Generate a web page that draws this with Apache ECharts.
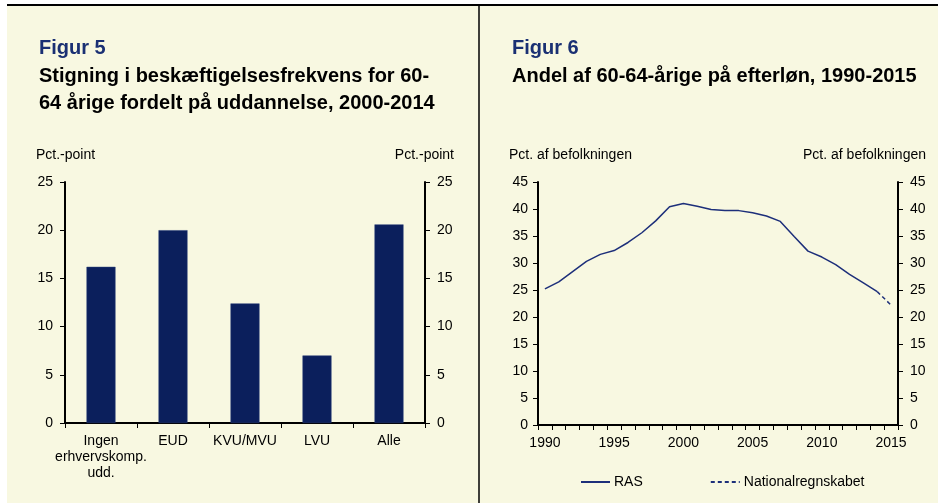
<!DOCTYPE html>
<html>
<head>
<meta charset="utf-8">
<script src="https://cdn.jsdelivr.net/npm/echarts@6/dist/echarts.min.js"></script>
<style>
  html, body { margin: 0; padding: 0; background: #ffffff; }
  #main { width: 938px; height: 503px; }
</style>
</head>
<body>
<div id="main"></div>
<script>
// Figur 5 - bars
var uddCategories = ['Ingen\nerhvervskomp.\nudd.', 'EUD', 'KVU/MVU', 'LVU', 'Alle'];
var uddValues = [16.2, 20.0, 12.4, 7.0, 20.6];

// Figur 6 - line
var years = ['1990', '1991', '1992', '1993', '1994', '1995', '1996', '1997', '1998', '1999',
  '2000', '2001', '2002', '2003', '2004', '2005', '2006', '2007', '2008', '2009',
  '2010', '2011', '2012', '2013', '2014', '2015'];
var rasValues = [25.2, 26.5, 28.4, 30.3, 31.6, 32.3, 33.8, 35.6, 37.8, 40.4,
  41.0, 40.5, 39.9, 39.7, 39.7, 39.3, 38.7, 37.7, 34.9, 32.2,
  31.1, 29.7, 27.9, 26.3, 24.7, null];
var nrValues = [null, null, null, null, null, null, null, null, null, null,
  null, null, null, null, null, null, null, null, null, null,
  null, null, null, null, 24.7, 22.2];

var navy = '#0b1f5c';
var lineNavy = '#1d2f7a';
var font = 'Liberation Sans, Arial, sans-serif';

var myChart = echarts.init(document.getElementById('main'));

function yAx(grid, pos, max, interval, margin) {
  return {
    type: 'value',
    gridIndex: grid,
    position: pos,
    min: 0,
    max: max,
    interval: interval,
    splitLine: { show: false },
    axisLine: { show: true, lineStyle: { color: '#000', width: 2 } },
    axisTick: { show: true, inside: false, length: 5, lineStyle: { color: '#000', width: 1 } },
    axisLabel: { color: '#000', fontSize: 14, fontFamily: font, margin: margin }
  };
}

var option = {
  backgroundColor: '#ffffff',
  animation: false,
  textStyle: { fontFamily: font },
  graphic: [
    { type: 'rect', shape: { x: 7, y: 6, width: 931, height: 497 }, style: { fill: '#f8f8e1' }, silent: true },
    { type: 'line', shape: { x1: 7, y1: 5, x2: 938, y2: 5 }, style: { stroke: '#000', lineWidth: 2 }, silent: true },
    { type: 'line', shape: { x1: 479, y1: 5, x2: 479, y2: 503 }, style: { stroke: '#000', lineWidth: 1.5 }, silent: true },
    { type: 'text', left: 36, top: 148, style: { text: 'Pct.-point', fontSize: 14, fontFamily: font, fill: '#000' } },
    { type: 'text', right: 938 - 454, top: 148, style: { text: 'Pct.-point', fontSize: 14, fontFamily: font, fill: '#000' } },
    { type: 'text', left: 509, top: 148, style: { text: 'Pct. af befolkningen', fontSize: 14, fontFamily: font, fill: '#000' } },
    { type: 'text', right: 938 - 926, top: 148, style: { text: 'Pct. af befolkningen', fontSize: 14, fontFamily: font, fill: '#000' } }
  ],
  title: [
    { text: 'Figur 5', left: 39, top: 38, padding: 0, textStyle: { color: '#1a3073', fontSize: 20, fontWeight: 'bold', fontFamily: font, lineHeight: 20 } },
    { text: 'Stigning i beskæftigelsesfrekvens for 60-\n64 årige fordelt på uddannelse, 2000-2014', left: 39, top: 63, padding: 0,
      textStyle: { color: '#000', fontSize: 20, fontWeight: 'bold', fontFamily: font, lineHeight: 27 } },
    { text: 'Figur 6', left: 512, top: 38, padding: 0, textStyle: { color: '#1a3073', fontSize: 20, fontWeight: 'bold', fontFamily: font, lineHeight: 20 } },
    { text: 'Andel af 60-64-årige på efterløn, 1990-2015', left: 512, top: 63, padding: 0,
      textStyle: { color: '#000', fontSize: 20, fontWeight: 'bold', fontFamily: font, lineHeight: 27 } }
  ],
  legend: {
    left: 580,
    top: 475,
    padding: 0,
    itemWidth: 29,
    itemHeight: 10,
    itemGap: 67,
    data: ['RAS', 'Nationalregnskabet'],
    itemStyle: { opacity: 0 },
    textStyle: { color: '#000', fontSize: 14, fontFamily: font, padding: [0, 0, 0, -1] }
  },
  grid: [
    { left: 65, right: 938 - 425, top: 182, bottom: 503 - 423 },
    { left: 538, right: 938 - 898, top: 182, bottom: 503 - 425 }
  ],
  xAxis: [
    {
      type: 'category',
      gridIndex: 0,
      data: uddCategories,
      boundaryGap: true,
      axisLine: { lineStyle: { color: '#000', width: 2 } },
      axisTick: { show: true, alignWithLabel: false, length: 5, lineStyle: { color: '#000', width: 1 } },
      axisLabel: { color: '#000', fontSize: 14, fontFamily: font, margin: 10, lineHeight: 16, interval: 0 }
    },
    {
      type: 'category',
      gridIndex: 1,
      data: years,
      boundaryGap: true,
      axisLine: { lineStyle: { color: '#000', width: 2 } },
      axisTick: { show: true, alignWithLabel: false, interval: 0, length: 5, lineStyle: { color: '#000', width: 1 } },
      axisLabel: { color: '#000', fontSize: 14, fontFamily: font, margin: 11, interval: 4 }
    }
  ],
  yAxis: [
    yAx(0, 'left', 25, 5, 12),
    yAx(0, 'right', 25, 5, 12),
    yAx(1, 'left', 45, 5, 10),
    yAx(1, 'right', 45, 5, 12)
  ],
  series: [
    {
      name: 'Stigning',
      type: 'bar',
      xAxisIndex: 0,
      yAxisIndex: 0,
      data: uddValues,
      barWidth: 29,
      itemStyle: { color: navy, borderColor: '#2a3f7a', borderWidth: 0.5 }
    },
    {
      name: 'RAS',
      type: 'line',
      xAxisIndex: 1,
      yAxisIndex: 2,
      data: rasValues,
      symbol: 'none',
      color: lineNavy,
      lineStyle: { color: lineNavy, width: 1.5 }
    },
    {
      name: 'Nationalregnskabet',
      type: 'line',
      xAxisIndex: 1,
      yAxisIndex: 2,
      data: nrValues,
      symbol: 'none',
      color: lineNavy,
      lineStyle: { color: lineNavy, width: 1.5, type: [4, 3] }
    }
  ]
};

myChart.setOption(option);
</script>
</body>
</html>
